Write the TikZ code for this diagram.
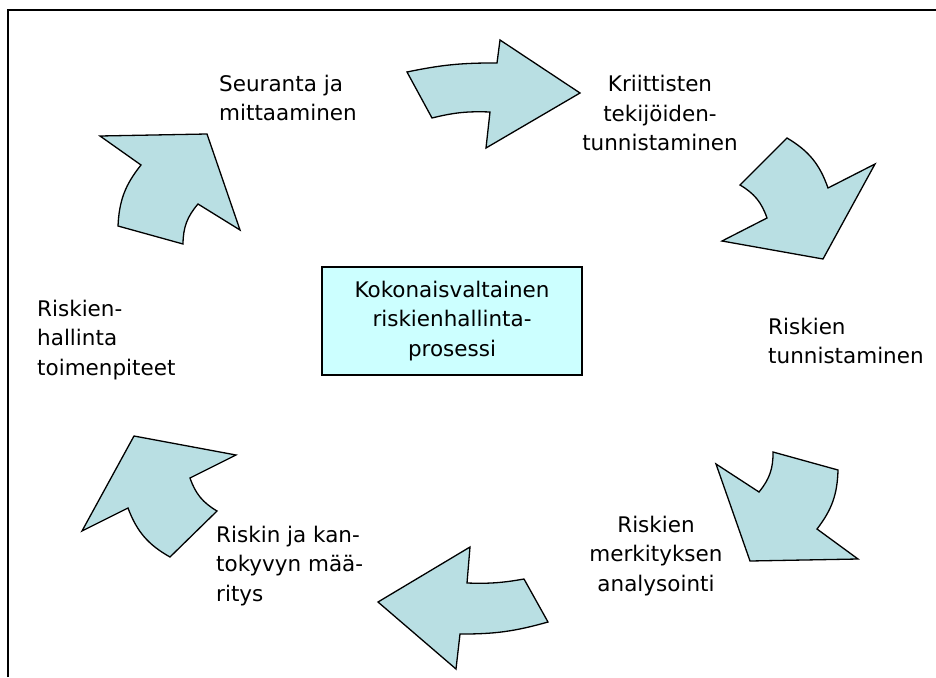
\documentclass[tikz,border=0pt]{standalone}
\usepackage{fontspec}
\setmainfont{DejaVu Sans}
\usepackage{xcolor}
\usepackage{tikz}
\usetikzlibrary{positioning}

\definecolor{arrowfill}{RGB}{185,223,227}
\definecolor{boxfill}{RGB}{204,255,255}

\begin{document}
\begin{tikzpicture}[
    x=1pt, y=-1pt,
    label/.style={font=\fontsize{21.5}{29.5}\selectfont, inner sep=0pt},
    bigarrow/.style={draw, fill=arrowfill, line width=1.3pt, line join=miter},
    centerbox/.style={rectangle, draw, fill=boxfill, line width=1.3pt, minimum width=260pt, minimum height=108pt, align=center, font=\fontsize{21.5}{29.5}\selectfont}
]
\useasboundingbox (0,0) rectangle (936,677);

% Frame
\draw[line width=2pt] (8,677) -- (8,10) -- (936,10);

% Center box
\node[centerbox] (process) at (452,321) {Kokonaisvaltainen\\riskienhallinta-\\prosessi};

% Step labels
\node[label, align=left, anchor=west] (monitor) at (219,98) {Seuranta ja\\mittaaminen};
\node[label, align=center] (critical) at (660,113) {Kriittisten\\tekijöiden-\\tunnistaminen};
\node[label, align=left, anchor=west] (identify) at (768,341) {Riskien\\tunnistaminen};
\node[label, align=center] (analyse) at (656,556) {Riskien\\merkityksen\\analysointi};
\node[label, align=left, anchor=west] (capacity) at (216,566) {Riskin ja kan-\\tokyvyn mää-\\ritys};
\node[label, align=left, anchor=west] (actions) at (37,340) {Riskien-\\hallinta\\toimenpiteet};

% Arrow 1 - top
\draw[bigarrow] (407,72) to[bend left=6] (497,63) -- (500,40) -- (580,93) -- (486,148)
    -- (490,112) to[bend right=8] (432,118) -- cycle;

% Arrow 2 - upper right
\draw[bigarrow] (740,185) -- (787,138) to[bend left=20] (828,188) -- (875,164) -- (823,259)
    -- (722,241) -- (767,218) to[bend right=20] cycle;

% Arrow 3 - lower right
\draw[bigarrow] (773,452) -- (838,470) to[bend left=18] (817,529) -- (858,559) -- (750,561)
    -- (716,464) -- (759,492) to[bend right=20] cycle;

% Arrow 4 - bottom
\draw[bigarrow] (524,579) to[bend left=6] (467,583) -- (470,547) -- (378,602) -- (456,669)
    -- (460,634) to[bend right=8] (548,622) -- cycle;

% Arrow 5 - lower left
\draw[bigarrow] (170,557) to[bend left=20] (128,508) -- (82,531) -- (134,436) -- (236,455)
    -- (190,478) to[bend right=20] (217,511) -- cycle;

% Arrow 6 - upper left
\draw[bigarrow] (118,226) to[bend left=18] (141,165) -- (100,136) -- (207,134) -- (240,230)
    -- (198,204) to[bend right=20] (183,244) -- cycle;

\end{tikzpicture}
\end{document}
